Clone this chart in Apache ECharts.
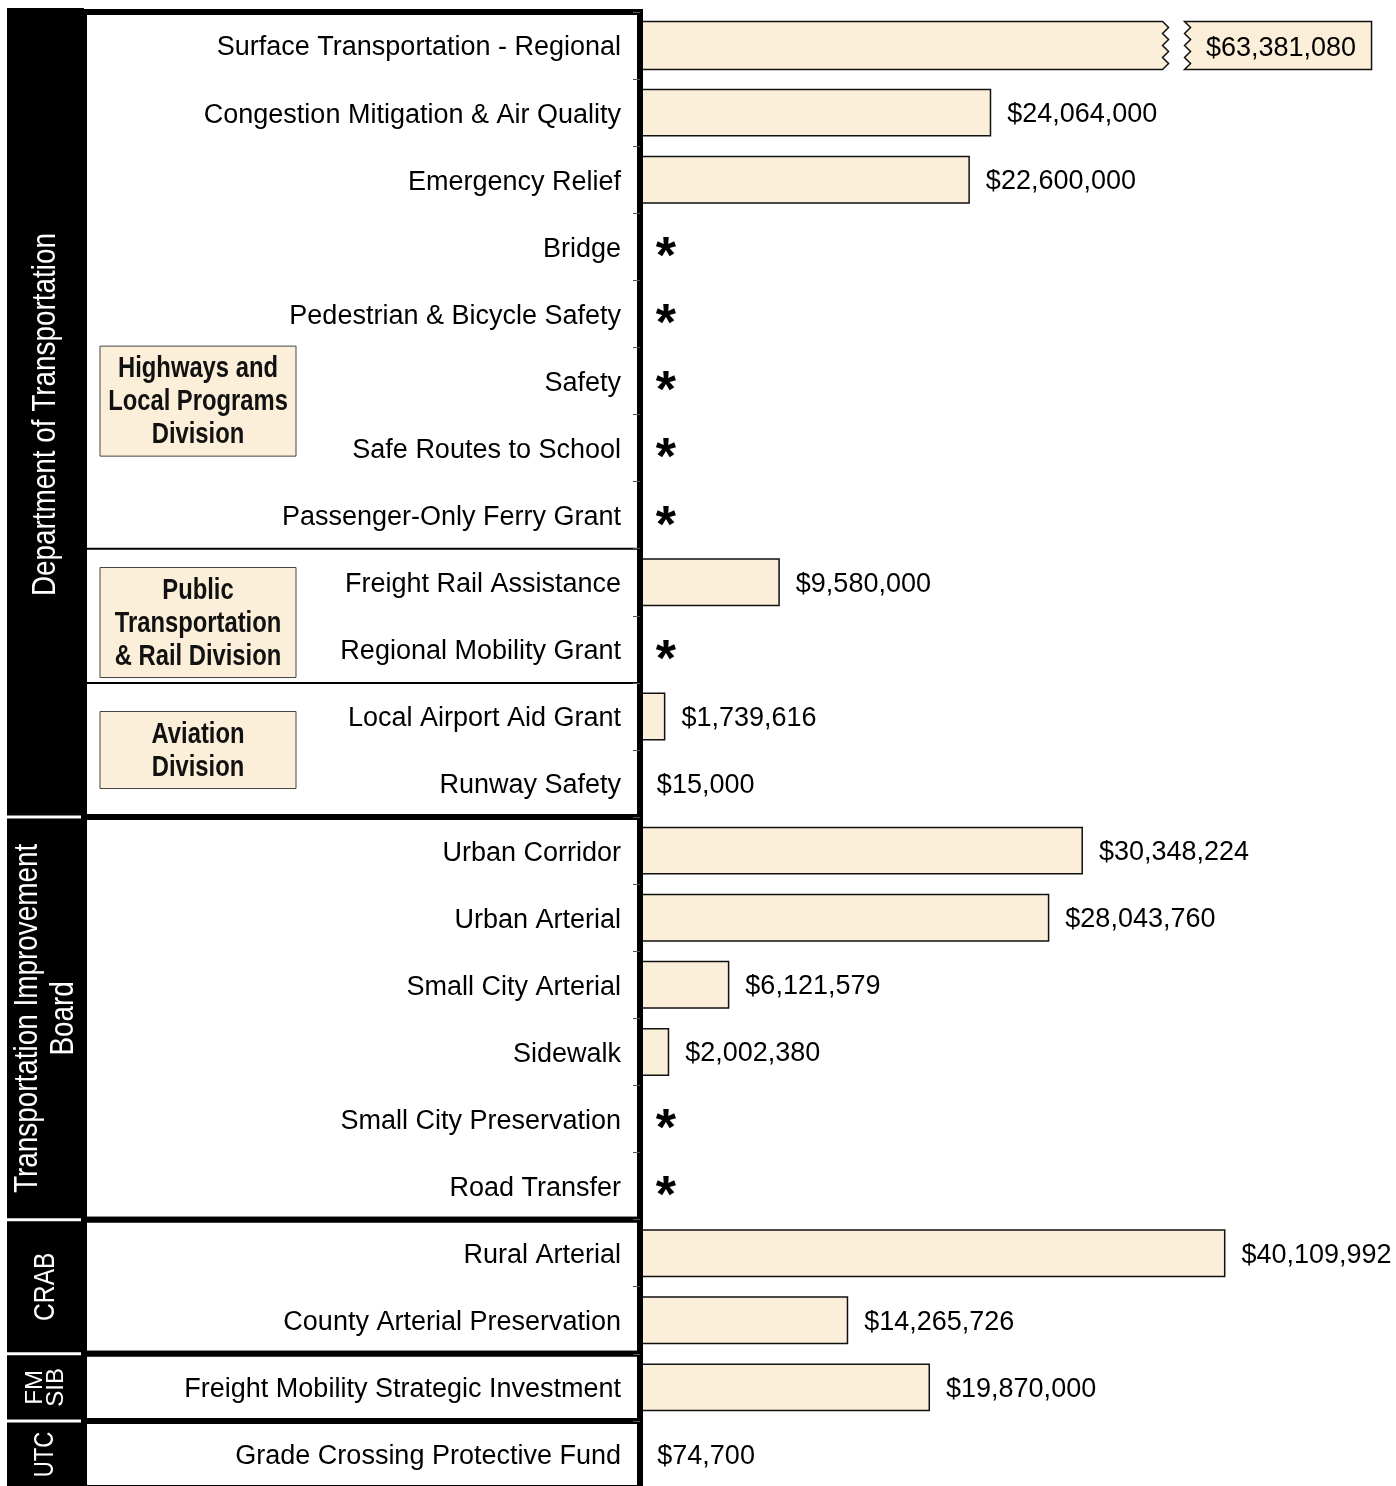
<!DOCTYPE html>
<html>
<head>
    <meta charset="utf-8">
    <title>grant programs</title>
    <style>
        body { margin: 0; background: #fff; }
    </style>
</head>
<body>
<!-- chart container -->
<div id="main" style="width: 1396px;height:1486px;"></div>

<script src="https://cdn.jsdelivr.net/npm/echarts@6.0.0/dist/echarts.min.js"></script>

<script type="text/javascript">
// program names, top to bottom
var categories = [
    'Surface Transportation - Regional',
    'Congestion Mitigation & Air Quality',
    'Emergency Relief',
    'Bridge',
    'Pedestrian & Bicycle Safety',
    'Safety',
    'Safe Routes to School',
    'Passenger-Only Ferry Grant',
    'Freight Rail Assistance',
    'Regional Mobility Grant',
    'Local Airport Aid Grant',
    'Runway Safety',
    'Urban Corridor',
    'Urban Arterial',
    'Small City Arterial',
    'Sidewalk',
    'Small City Preservation',
    'Road Transfer',
    'Rural Arterial',
    'County Arterial Preservation',
    'Freight Mobility Strategic Investment',
    'Grade Crossing Protective Fund'
];

// dollars, null = no figure (shown as *)
var amounts = [63381080, 24064000, 22600000, null, null, null, null, null, 9580000, null,
    1739616, 15000, 30348224, 28043760, 6121579, 2002380, null, null,
    40109992, 14265726, 19870000, 74700];

// agencies in the black column and how many rows each one covers
var agencies = ['Department of Transportation', 'Transportation Improvement\nBoard', 'CRAB', 'FM\nSIB', 'UTC'];
var agencyRows = [12, 6, 2, 1, 1];

// divisions inside the Department of Transportation
var divisions = ['Highways and\nLocal Programs\nDivision', 'Public\nTransportation\n& Rail Division', 'Aviation\nDivision'];
var divisionRows = [8, 2, 2];

// axis range, and where a bar longer than the axis gets cut
var axisMax = 52000000;
var breakAt = 35800000;

// ---- styling / layout bits ----
var FONT = '"Liberation Sans", Arial, sans-serif';
var NARROW_SCALE = 0.82;   // no narrow font here, squeeze the text instead
var barColor = '#FCEFD9';
var agencyFontSize = [34, 34, 30, 24, 27];
var agencyScale = [0.82, 0.82, 0.82, 1, 0.82];
var divisionAnchor = [5.3, 8.6, 10.5];

function money(v) {
    return '$' + Number(v).toLocaleString('en-US');
}

var myChart = echarts.init(document.getElementById('main'));

// bar data: null -> asterisk, longer than the axis -> drawn by the custom series
var barData = amounts.map(function (v) {
    if (v === null) {
        return {
            value: 0,
            label: { formatter: '*', fontSize: 52, fontWeight: 'bold', offset: [0, 12] }
        };
    }
    if (v > axisMax) {
        return '-';
    }
    return v;
});

var brokenData = [];
amounts.forEach(function (v, i) {
    if (v !== null && v > axisMax) {
        brokenData.push([v, i]);
    }
});

// the cut bar with zigzag ends and its value box
function renderBroken(params, api) {
    var row = api.value(1);
    var start = api.coord([0, row]);
    var cut = api.coord([breakAt, row]);
    var h = api.size([0, 1])[1] * 0.715;
    var top = start[1] - h / 2;
    var bot = start[1] + h / 2;
    var x0 = start[0];
    var xb = cut[0];
    var xs = xb + 22;
    var xe = xs + 187;
    var teeth = 8;
    var k;

    var left = [[x0, top], [xb, top]];
    for (k = 1; k < teeth; k++) {
        left.push([xb + (k % 2 ? 6 : 0), top + h * k / teeth]);
    }
    left.push([xb, bot], [x0, bot]);

    var right = [[xs, top], [xe, top], [xe, bot], [xs, bot]];
    for (k = teeth - 1; k > 0; k--) {
        right.push([xs + (k % 2 ? 6 : 0), top + h * k / teeth]);
    }

    var lineStyle = { fill: barColor, stroke: '#111', lineWidth: 1.5 };
    return {
        type: 'group',
        children: [
            { type: 'polygon', shape: { points: left }, style: lineStyle },
            { type: 'polygon', shape: { points: right }, style: lineStyle },
            {
                type: 'text',
                style: {
                    text: money(api.value(0)),
                    x: (xs + xe) / 2 + 3,
                    y: start[1] + 3,
                    align: 'center',
                    verticalAlign: 'middle',
                    fontSize: 27,
                    fontFamily: FONT,
                    fill: '#000'
                }
            }
        ]
    };
}

var option = {
    animation: false,
    textStyle: { fontFamily: FONT },
    grid: {
        left: 640,
        top: 12,
        width: 759,
        height: 1476,
        containLabel: false,
        outerBoundsMode: 'none'
    },
    xAxis: {
        type: 'value',
        min: 0,
        max: axisMax,
        show: false
    },
    yAxis: {
        type: 'category',
        data: categories,
        inverse: true,
        z: 5,
        axisLine: { show: true, lineStyle: { color: '#000', width: 6 } },
        axisTick: { show: true, length: 7, lineStyle: { color: '#555', width: 1 } },
        axisLabel: {
            margin: 19,
            fontSize: 27,
            color: '#000',
            fontFamily: FONT,
            formatter: function (v) { return '{a|' + v + '}'; },
            rich: {
                a: { fontSize: 27, color: '#000', fontFamily: FONT, padding: [5, 0, 0, 0] }
            }
        },
        splitLine: { show: false }
    },
    series: [
        {
            type: 'bar',
            data: barData,
            barWidth: '71.5%',
            itemStyle: { color: barColor, borderColor: '#111', borderWidth: 1.5 },
            label: {
                show: true,
                position: 'right',
                distance: 15,
                offset: [1, 2],
                fontSize: 27,
                color: '#000',
                fontFamily: FONT,
                formatter: function (p) { return money(p.value); }
            }
        },
        {
            type: 'custom',
            coordinateSystem: 'cartesian2d',
            encode: { x: 0, y: 1 },
            data: brokenData,
            renderItem: renderBroken
        }
    ]
};

myChart.setOption(option);

// ---- left side panels, placed from the category axis ----
var c0 = myChart.convertToPixel({ yAxisIndex: 0 }, categories[0]);
var c1 = myChart.convertToPixel({ yAxisIndex: 0 }, categories[1]);
var band = c1 - c0;
function rowTop(i) { return c0 - band / 2 + i * band; }

var elements = [];
var r = 0;
agencies.forEach(function (name, g) {
    var top = rowTop(r);
    var bottom = rowTop(r + agencyRows[g]);
    // white panel with heavy border
    elements.push({
        type: 'rect', z: 1,
        shape: { x: 84, y: top, width: 556, height: bottom - top },
        style: { fill: '#fff', stroke: '#000', lineWidth: 6 }
    });
    // black block in the left column
    var bt = g === 0 ? top - 4 : top + 1.5;
    elements.push({
        type: 'rect', z: 2,
        shape: { x: 7, y: bt, width: 77, height: bottom - 1.5 - bt },
        style: { fill: '#000' }
    });
    elements.push({
        type: 'text', z: 3,
        x: 45.5, y: (top + bottom) / 2,
        rotation: Math.PI / 2,
        scaleX: agencyScale[g],
        style: {
            text: name,
            align: 'center',
            verticalAlign: 'middle',
            fontSize: agencyFontSize[g],
            lineHeight: g === 3 ? 21 : 36,
            fontFamily: FONT,
            fill: '#fff'
        }
    });
    r += agencyRows[g];
});

// thin lines between divisions, and the division name boxes
r = 0;
divisions.forEach(function (name, d) {
    if (d > 0) {
        var yy = rowTop(r);
        elements.push({
            type: 'line', z: 2,
            shape: { x1: 86, y1: yy, x2: 637, y2: yy },
            style: { stroke: '#000', lineWidth: 2 }
        });
    }
    var lines = name.split('\n').length;
    var h = lines * 33 + 11;
    var cy = c0 + divisionAnchor[d] * band;
    elements.push({
        type: 'rect', z: 2,
        shape: { x: 100, y: cy - h / 2, width: 196, height: h },
        style: { fill: barColor, stroke: '#444', lineWidth: 1 }
    });
    elements.push({
        type: 'text', z: 3,
        x: 198, y: cy + 1,
        scaleX: NARROW_SCALE,
        style: {
            text: name,
            align: 'center',
            verticalAlign: 'middle',
            fontSize: 29,
            fontWeight: 'bold',
            lineHeight: 33,
            fontFamily: FONT,
            fill: '#111'
        }
    });
    r += divisionRows[d];
});

myChart.setOption({ graphic: { elements: elements } });
</script>
</body>
</html>
